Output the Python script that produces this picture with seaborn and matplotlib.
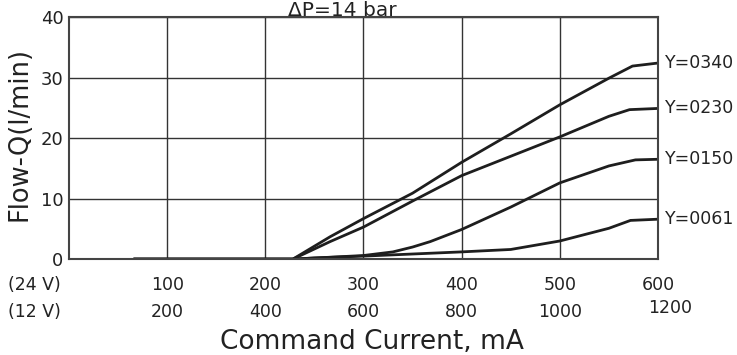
import matplotlib
matplotlib.use("Agg")
import matplotlib.pyplot as plt
import matplotlib.transforms as mtransforms
import pandas as pd
import seaborn as sns

# 读出的曲线数据 (mA, l/min)
current_0340 = [66, 228, 266, 300, 350, 400, 450, 500, 550, 574, 600]
flow_0340 = [0, 0, 3.7, 6.7, 10.9, 16.0, 20.7, 25.5, 29.9, 31.9, 32.4]
current_0230 = [66, 228, 266, 300, 350, 400, 450, 500, 550, 571, 600]
flow_0230 = [0, 0, 2.9, 5.3, 9.6, 13.8, 17.0, 20.2, 23.6, 24.7, 24.9]
current_0150 = [66, 228, 300, 330, 350, 368, 400, 450, 500, 550, 577, 600]
flow_0150 = [0, 0, 0.6, 1.2, 2.0, 2.9, 4.9, 8.6, 12.6, 15.4, 16.4, 16.5]
current_0061 = [66, 228, 250, 300, 350, 400, 450, 500, 550, 572, 600]
flow_0061 = [0, 0, 0.2, 0.5, 0.85, 1.2, 1.6, 3.0, 5.1, 6.4, 6.6]

series_names = ["Y=0340", "Y=0230", "Y=0150", "Y=0061"]
tick_24v = [100, 200, 300, 400, 500, 600]
tick_12v = ["200", "400", "600", "800", "1000", "1200"]

rows = []
for name, xs, ys in zip(series_names,
                        [current_0340, current_0230, current_0150, current_0061],
                        [flow_0340, flow_0230, flow_0150, flow_0061]):
    for x, y in zip(xs, ys):
        rows.append({"current": x, "flow": y, "series": name})
df = pd.DataFrame(rows)

sns.set_style("white")
plt.rcParams['font.family'] = ['DejaVu Sans']

fig = plt.figure(figsize=(7.37, 3.55), dpi=100)
ax = fig.add_axes([0.0936, 0.270, 0.7992, 0.682])

sns.lineplot(data=df, x="current", y="flow", hue="series", sort=False,
             palette=["#1e1e1e"] * 4, linewidth=2.0, legend=False, ax=ax)

ax.set_xlim(0, 600)
ax.set_ylim(0, 40)
ax.set_xticks(tick_24v)
ax.set_yticks([0, 10, 20, 30, 40])
ax.grid(True, color="#333333", linewidth=1.0)
ax.set_axisbelow(True)
for s in ax.spines.values():
    s.set_color("#444444")
    s.set_linewidth(1.5)
ax.tick_params(length=0, labelsize=13, colors="#222222", pad=4)
ax.set_xticklabels([])
ax.set_xlabel("")
ax.set_ylabel("")
fig.text(0.027, 0.622, "Flow-Q(l/min)", rotation=90, ha="center", va="center",
         fontsize=18.5, color="#222222")

# 两行横轴刻度
trans = mtransforms.blended_transform_factory(ax.transData, ax.transAxes)
ax.text(-35, -0.07, "(24 V)", transform=trans, ha="center", va="top",
        fontsize=12.5, color="#222222")
ax.text(-35, -0.18, "(12 V)", transform=trans, ha="center", va="top",
        fontsize=12.5, color="#222222")
for v, lab in zip(tick_24v, tick_12v):
    ax.text(v, -0.07, str(v), transform=trans, ha="center", va="top",
            fontsize=12.5, color="#222222")
    dx = 12 if lab == "1200" else 0
    dy = 0.015 if lab == "1200" else 0
    ax.text(v + dx, -0.18 + dy, lab, transform=trans, ha="center", va="top",
            fontsize=12.5, color="#222222")

fig.text(0.505, 0.017, "Command Current, mA", ha="center", va="baseline",
         fontsize=19, color="#222222")

# 曲线右侧标签
for name, ys in zip(series_names, [flow_0340, flow_0230, flow_0150, flow_0061]):
    ax.text(607, ys[-1], name, ha="left", va="center", fontsize=12.5,
            color="#222222", clip_on=False)

fig.text(0.465, 0.955, "ΔP=14 bar", ha="center", va="baseline",
         fontsize=14.5, color="#222222")

fig.savefig("out.png", dpi=100)
